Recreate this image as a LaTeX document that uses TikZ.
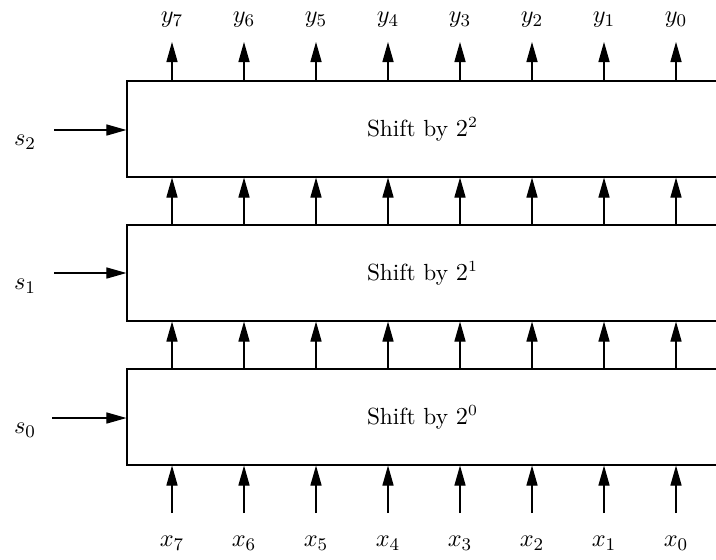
\documentclass[tikz,border=0pt]{standalone}
\usepackage{amsmath}
\usepackage{tikz}
\usetikzlibrary{arrows.meta}
\tikzset{
	stage/.style={rectangle,draw,line width=0.5pt,minimum width=266pt,minimum height=43.2pt,inner sep=0pt},
	bitlabel/.style={font=\fontsize{11}{13}\selectfont,inner sep=1pt},
	sig/.style={-{Triangle[length=9pt,width=5pt]},line width=0.5pt}
}

\begin{document}
\begin{tikzpicture}[x=0.45pt,y=-0.45pt]
	\useasboundingbox (0,0) rectangle (716,559);
	% the three shifter stages
	\node [stage,font=\fontsize{10.5}{12}\selectfont] (shift2) at (422.5,129) {Shift by $2^2$};
	\node [stage,font=\fontsize{10.5}{12}\selectfont] (shift1) at (422.5,273) {Shift by $2^1$};
	\node [stage,font=\fontsize{10.5}{12}\selectfont] (shift0) at (422.5,417) {Shift by $2^0$};
	% select inputs
	\node [bitlabel] (s2) at (25,142) {$s_2$};
	\node [bitlabel] (s1) at (25,286) {$s_1$};
	\node [bitlabel] (s0) at (25,430) {$s_0$};
	\coordinate (sel2) at (54,130);
	\coordinate (sel1) at (54,273);
	\coordinate (sel0) at (52,418);
	\foreach \k in {0,1,2}
		\draw [sig] (sel\k) -- (sel\k -| shift\k.west);
	% data bits
	\foreach \i in {0,...,7}{
		\pgfmathsetmacro{\colx}{676-72*\i}
		\node [bitlabel] (x\i) at (\colx,543) {$x_{\i}$};
		\node [bitlabel] (y\i) at (\colx,20) {$y_{\i}$};
		\coordinate (in\i) at (\colx,513);
		\coordinate (out\i) at (\colx,42);
		\draw [sig] (in\i) -- (in\i |- shift0.south);
		\draw [sig] (in\i |- shift0.north) -- (in\i |- shift1.south);
		\draw [sig] (in\i |- shift1.north) -- (in\i |- shift2.south);
		\draw [sig] (in\i |- shift2.north) -- (out\i);
	}
\end{tikzpicture}
\end{document}
